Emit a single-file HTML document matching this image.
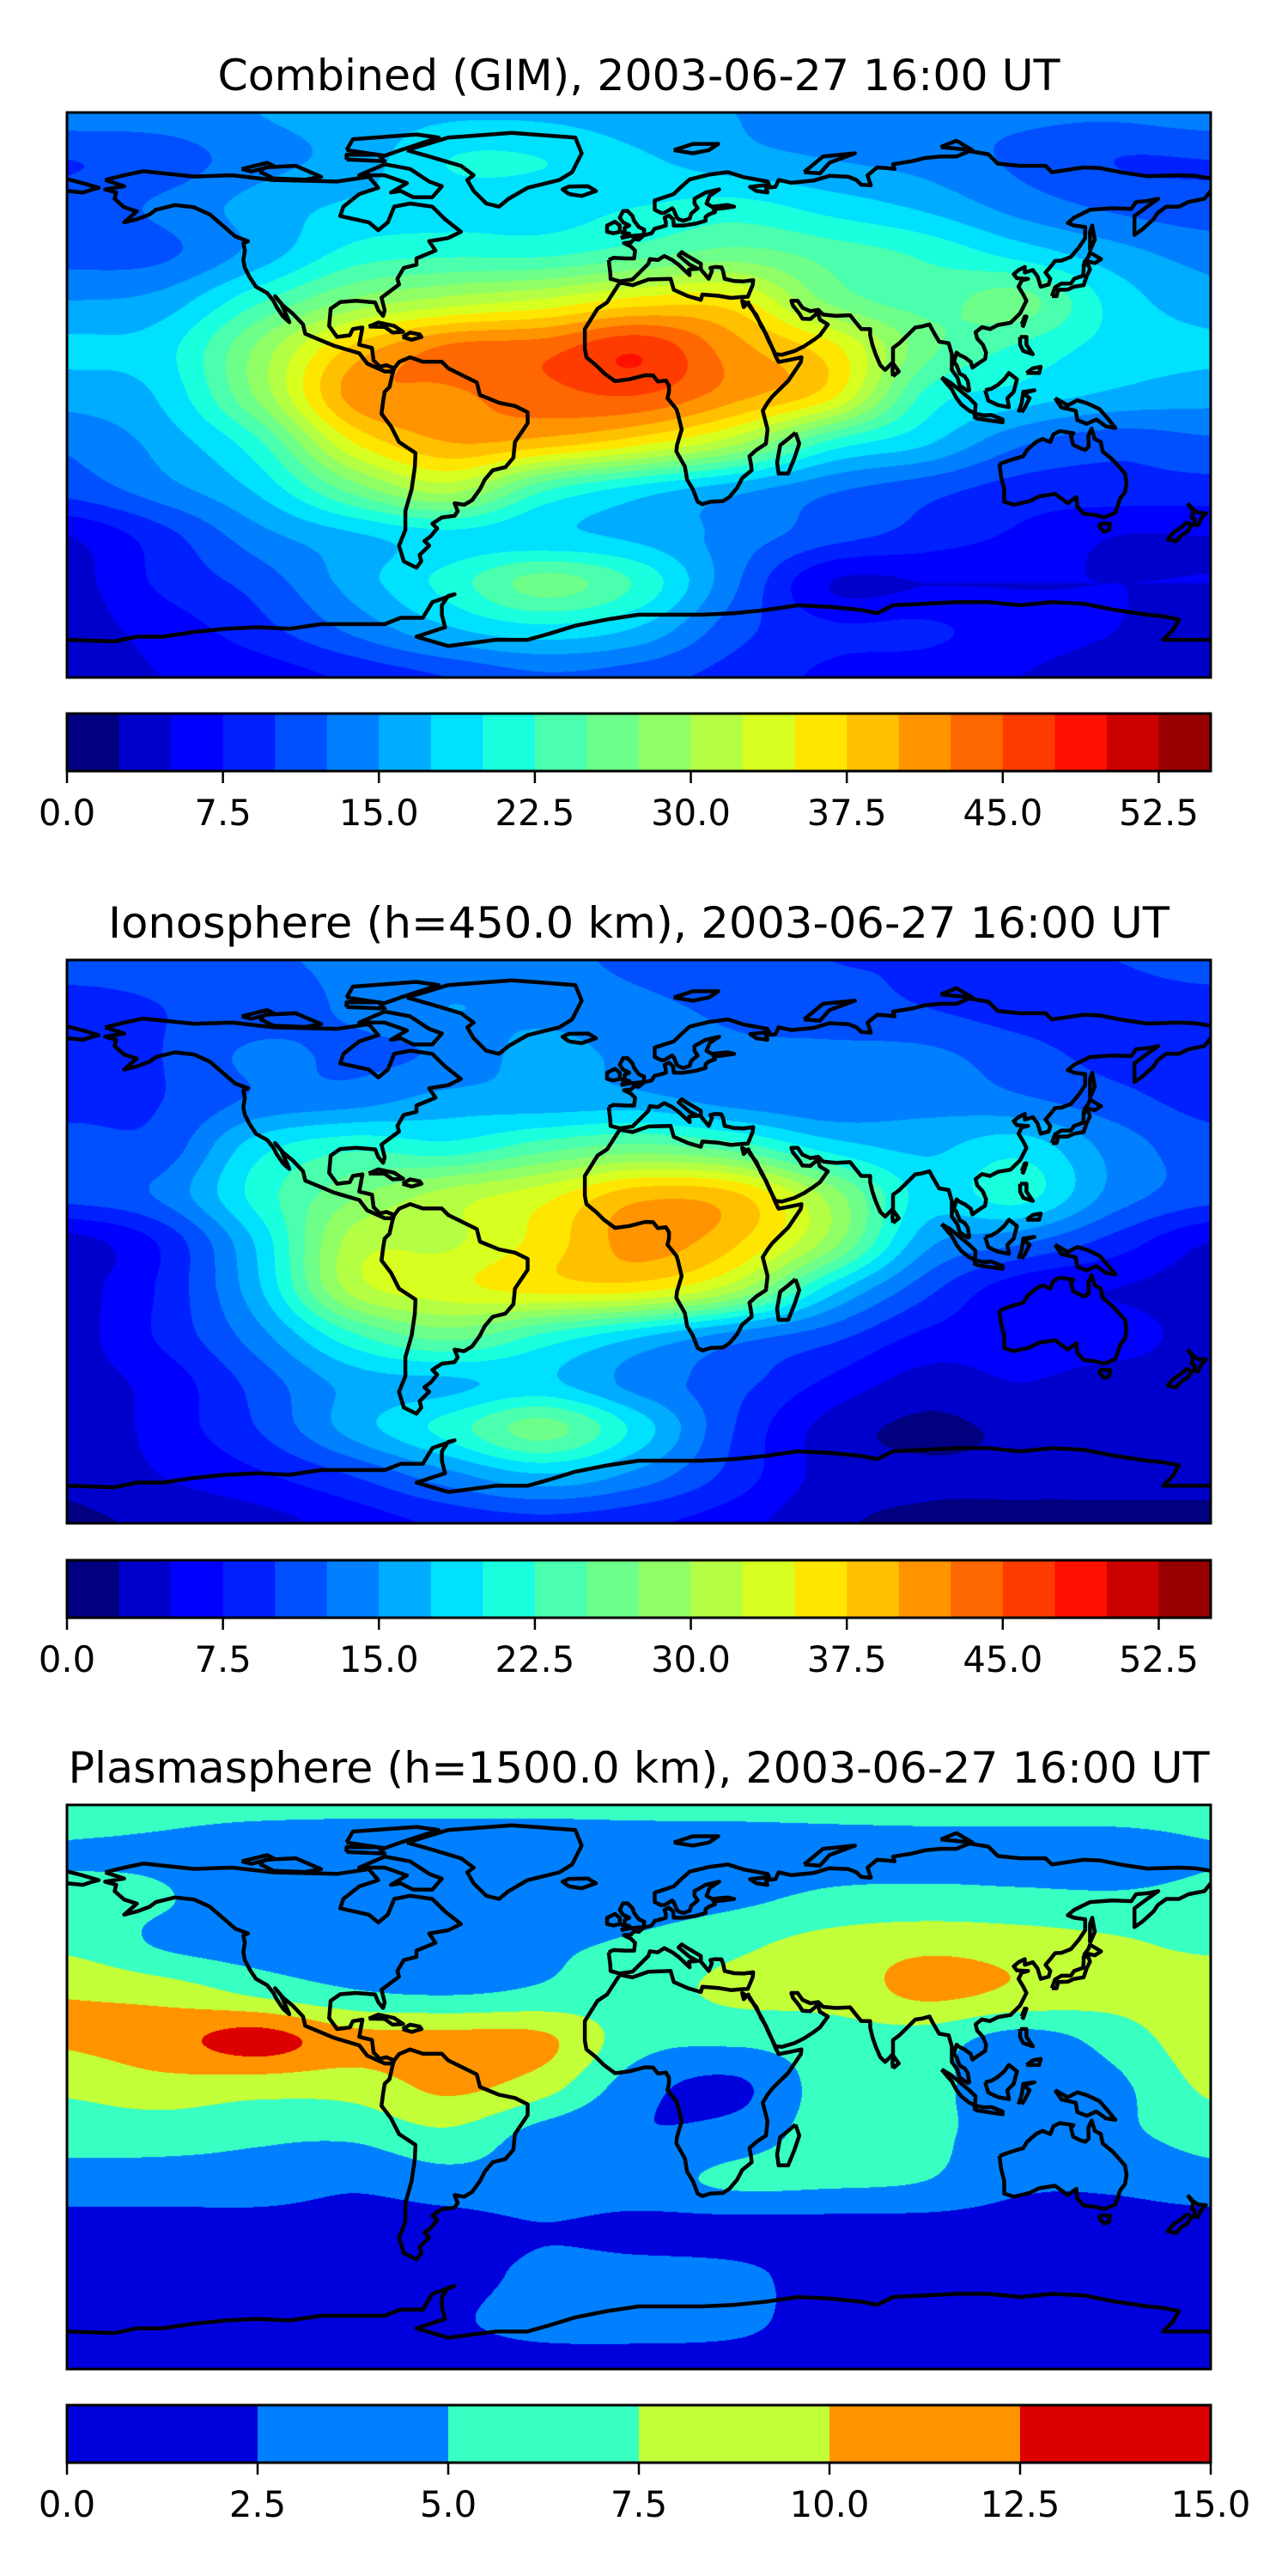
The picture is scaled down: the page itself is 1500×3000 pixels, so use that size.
<!DOCTYPE html>
<html><head><meta charset="utf-8">
<style>
html,body{margin:0;padding:0;background:#fff;}
#wrap{position:relative;width:1500px;height:3000px;overflow:hidden;background:#fff;}
canvas{position:absolute;}
svg{position:absolute;left:0;top:0;}
text{font-family:"DejaVu Sans","Liberation Sans",sans-serif;fill:#000;}
</style></head>
<body>
<div id="wrap">
<canvas id="c1" width="1332" height="658" style="left:78px;top:131px"></canvas>
<canvas id="c2" width="1332" height="656" style="left:78px;top:1118px"></canvas>
<canvas id="c3" width="1332" height="657" style="left:78px;top:2102px"></canvas>
<svg id="ov" width="1500" height="3000"></svg>
</div>
<script>
// grid: lon -180..180 step 30 (13), lat 90..-90 step 15 (13 rows)
const lons=[-180,-150,-120,-90,-60,-30,0,30,60,90,120,150,180];
const lats=[90,75,60,45,30,15,0,-15,-30,-45,-60,-75,-90];
const combinedTec=[
[14,14,15,16,17,17,16,15,14,13,13,13,14],
[10,11,14,16,20,20,18,16,15,14,12,10,10],
[11,13,16,18,19,19,20,21,19,17,14,12,11],
[11.5,12,16,21,22,22,24,26,24,22,19,16,14],
[15,16,22,28,31,33,36,36,27,24,26,19,16],
[18,19,28,38,43,44,47,41,36,26,22,19,18],
[16,18,28,41,42,44,45,41,36,22,19,17,16],
[13,16,22,35,40,39,36,31,22,18,13,11,12],
[11,14,18,26,31,23,19,16,13,11,9,9,9],
[5,9,14,17,19,18,17,14,11,9,7,5,5],
[4,8,11,16,21,26,22,13,5,5,5,5,5],
[4,6,9,13,17,19,17,11,8,8,6,5,4],
[4,5,6,8,10,12,11,9,7,6,5,4,4]];
const ionoTec=[
[11,11,12,13,13,13,12,11,10,10,10,10,11],
[9,10,11,13,15,14,13,12,11,10,9,9,9],
[8,10,13,12,13,16,14,13,13,13,11,9,8],
[9,10,13,14,16,16,16,14,13,14,13,11,9],
[11,11,19,22,21,24,26,24,19,17,19,14,11],
[11,13,21,27,31,34,39,38,29,19,21,14,11],
[4,8,18,31,32,36,41,38,29,16,13,9,5],
[4,8,17,31,34,36,36,31,19,11,6,5,4],
[4,8,14,22,26,22,18,14,11,7,6,6,4],
[4,6,11,16,17,18,14,11,7,4,5,4,4],
[3,6,10,16,21,26,19,10,4,2,3,3,3],
[3,5,7,10,14,17,14,9,4,3,3,3,3],
[2,3,4,6,8,9,8,6,3,2,2,2,2]];
const plasmaTec=[
[5.6,5.6,5.6,5.6,5.6,5.6,5.6,5.6,5.6,5.6,5.6,5.6,5.6],
[4.9,4.6,3.6,3.2,3.2,3.2,3.6,3.8,4.2,4.4,4.4,4.4,4.9],
[5.5,5.2,3.3,3.2,3.2,3.3,3.8,4.5,5.5,5.7,5.5,5.3,5.5],
[7,4.8,3.8,3.3,3.3,4.5,5.5,7,8.5,9.5,9,8,7],
[9.8,9,7,5.3,4.8,5.5,6.5,8,8.5,10.5,9.5,8.5,9.5],
[10.3,11.5,13.5,11,11,10.5,6,5.5,6.2,6.2,4,6,9.2],
[8,9,8.5,8.5,10.5,8.5,3.5,2,6,5.5,4,4.5,8],
[6,6,5.5,5.5,7,4,2.6,3.5,6,5.5,4,4.5,6],
[4,4,4,3,4,4,4,5.5,5.5,5,3,3,4],
[1.5,1.5,1.5,1.5,1.6,2.4,1.8,1.6,1.5,1.5,1.5,1.5,1.5],
[1.5,1.5,1.5,1.5,1.7,3,3.2,3,1.6,1.5,1.5,1.5,1.5],
[1.5,1.5,1.5,1.5,2.2,3.2,3.3,3,1.6,1.5,1.5,1.5,1.5],
[1.5,1.5,1.5,1.5,1.5,1.5,1.5,1.5,1.5,1.5,1.5,1.5,1.5]];
const levels22=[0,2.5,5,7.5,10,12.5,15,17.5,20,22.5,25,27.5,30,32.5,35,37.5,40,42.5,45,47.5,50,52.5,55];
const colors22=["#000080","#0000cd","#0000ff","#0020ff","#0050ff","#0080ff","#00acff","#00e0ff","#1affdd","#4affad","#6dff8a","#90ff66","#b4ff43","#d7ff1f","#ffe600","#ffc000","#ff9400","#ff6800","#ff3c00","#ff1000","#cd0000","#980000"];
const ticks22=["0.0","7.5","15.0","22.5","30.0","37.5","45.0","52.5"];
const tickVals22=[0,7.5,15,22.5,30,37.5,45,52.5];
const levels6=[0,2.5,5,7.5,10,12.5,15];
const colors6=["#0000dc","#0080ff","#38ffc2","#c2ff38","#ff9400","#dc0000"];
const ticks6=["0.0","2.5","5.0","7.5","10.0","12.5","15.0"];
const tickVals6=[0,2.5,5,7.5,10,12.5,15];

// coastlines [lon,lat]
const coasts={
"north-america":[[-168,68.5],[-162,70],[-156,71.3],[-140,69.6],[-128,70],[-115,68.5],[-95,68],[-85,69.5],[-82,66],[-88,64],[-93,60],[-94,57],[-85,55],[-82,52.5],[-79,55],[-77,60],[-72,61],[-65,60],[-61,56],[-56,52],[-60,50],[-66,49],[-64,46],[-70,43.5],[-70,41.5],[-74,40.5],[-76,37],[-75.5,35.2],[-81,31],[-80,27],[-80.5,25.2],[-82,27],[-83,29.5],[-89,30],[-94,29.6],[-97,27.5],[-97.5,22],[-95,18.5],[-91,19],[-90,21],[-87,21.5],[-88,16],[-84,15],[-83.5,11],[-81.5,9],[-79.5,9.5],[-77,8.5],[-78,7.5],[-80,7.5],[-85.5,10],[-88,13.3],[-92,14.5],[-96,15.7],[-105,19.5],[-105.7,22.5],[-109,26],[-112,28.5],[-114.5,31.5],[-112.5,29],[-110,23.2],[-112,25],[-114,28],[-115,30],[-117,32.5],[-120.5,34.5],[-122.5,37.5],[-124,40.5],[-124.5,43],[-124,46],[-124.5,48.3],[-123,49],[-127,50.5],[-131,54],[-135,57.5],[-140,59.8],[-146,60.5],[-152,59],[-154,57.5],[-158,56],[-162,55],[-158,58.5],[-162,59.8],[-165,62.5],[-164.5,64.5],[-168,65.5],[-162,66.5],[-168,68.5]],
"south-america":[[-77,8.5],[-75.5,10.5],[-72,12],[-68,10.6],[-62,10.6],[-60,8.5],[-55,6],[-51,4],[-50,0],[-44,-2.5],[-39,-3.5],[-35,-5.5],[-35,-9],[-39,-15],[-39.5,-20],[-42,-23],[-46,-24],[-48.5,-27],[-50,-30],[-52.5,-33.5],[-55,-35],[-58,-34.5],[-57,-37],[-58,-38.5],[-62,-39],[-65,-41],[-63.5,-42.5],[-65.5,-45],[-67.5,-46.5],[-66,-48],[-69,-51],[-68.5,-53],[-70,-55],[-74,-53],[-75.5,-48],[-73.5,-43],[-73.5,-37],[-71.5,-30],[-70.5,-23],[-70.3,-18.5],[-75.5,-15],[-78,-10],[-81,-6],[-80.5,-2],[-80,1],[-78.5,2.5],[-77.5,7],[-77,8.5]],
"greenland":[[-73,78],[-60,82],[-40,83.5],[-20,82],[-18,77],[-21,71],[-25,68.5],[-35,66],[-41,62.5],[-44,60],[-48,61],[-52,65],[-54,68.5],[-52,70],[-56,73],[-66,76],[-73,78]],
"eurasia-africa-south":[[-9.5,43],[-9,39],[-8.9,37],[-6,36.2],[-2,36.8],[0,38.8],[3,41.8],[3.5,43.3],[6,43],[8,44.3],[10.5,43],[12.5,41.5],[16,38.2],[15.8,40],[18.5,40.2],[16,41.5],[12.5,44.5],[13.5,45.5],[15,44.5],[19.5,41.8],[19.5,40],[22,37],[23,39.5],[22.5,40.5],[24,40.8],[26,40.7],[26.5,39.5],[27,37],[30,36.3],[33,36.2],[36,36.6],[35.8,35],[35,33],[34.3,31.3],[32.3,31.2],[29,30.9],[25,31.6],[20,32],[19.5,30.3],[15.5,31.5],[11,33.5],[10,37],[3,36.8],[-2,35],[-6,35.8],[-10,29.5],[-13,27.5],[-17,21],[-17,14.7],[-16.5,12],[-13.5,9.5],[-11,7],[-7.5,4.4],[-3,5],[2,6.3],[4.5,6.2],[6,4.3],[8.5,4.6],[9.5,3],[9.5,1],[9,-1],[11.8,-4.5],[12.3,-6],[13.5,-11],[12,-16],[11.8,-18],[14.5,-22.8],[15.2,-27],[17,-30],[18.5,-34],[20,-34.8],[22.5,-34],[26.5,-33.8],[28.5,-32.5],[31,-29.5],[32.5,-26.5],[35.5,-24],[35.3,-22],[34.8,-19.5],[37,-17.5],[40,-15.5],[40.5,-11],[39.5,-7],[39,-5],[40.5,-2.5],[42,-0.5],[44,1.5],[47,4.5],[49,7.5],[51,10.5],[51.2,12],[48,11.3],[44,10.5],[43,12.5],[42,15],[40,19.5],[38.5,22],[37,25.5],[35,28],[34.5,29.5],[33,28],[32.5,30],[35,28.5],[37,25],[39,21.5],[41,17],[43,13],[45,12.8],[49,14],[52,15.5],[55,17.5],[57,19],[59.5,22.5],[57,24],[56.3,26.2],[54,24.2],[51.5,24.3],[50.5,26],[48.5,28.5],[48,30],[50,30],[51.5,27.8],[54,26.7],[56.5,27.1],[58,25.6],[62,25.2],[66.5,25.4],[68,23.5],[70,21],[72.8,21],[72.8,19],[73.5,16],[74.5,13],[76,9.5],[77.5,8],[78.5,9],[80,10.5],[80,15],[82,16.5],[84,18.5],[87,21.5],[89,21.8],[91.5,22.5],[92.5,20.5],[94.5,17],[97.5,16.5],[98.5,13],[98.5,10],[98.5,8],[100.3,5.5],[101,3],[103.5,1.3],[104,1.5],[103.5,4.5],[102.5,6],[101,6.8],[100,9.5],[99.2,10.5],[100,13.5],[101,12.7],[102.5,12],[104.5,10.5],[105,8.7],[106.5,9.8],[109,11.5],[109.3,13.5],[108.3,16],[106.5,18],[106,20],[108,21.6],[110.5,21],[113,22.3],[117,23],[120,26],[122,30],[121,32],[119.5,34.5],[120.5,36.5],[122.5,37],[119,37.2],[118,38.5],[119.5,39.8],[121.5,40.8],[121.5,39],[124,39.8],[125.5,37.8],[126.5,34.5],[129,35.2],[129.5,37],[128,39],[129.7,41],[131,42.7],[133,42.8],[136,44],[138.5,47],[140.5,50],[140.5,53.5],[137,54],[135,54.8],[137,56.5],[142,59],[149,59.5],[155,59.3],[156.5,61.5],[160,61.8],[163.5,62.5],[160,60],[156,57],[156,51],[158.5,52.8],[162,56],[163.3,58],[166,60],[170,60],[173,61.5],[178,62.5],[180,65]],
"eurasia-north":[[180,69],[175,69.8],[170,70],[160,69.7],[152,70.9],[145,72.3],[140,72.5],[130,71],[128,73],[120,73],[113,73.7],[110,76.7],[104,77.7],[100,76],[95,76],[90,75.5],[86,74.5],[80,73.5],[80.5,72],[78,72.3],[75,72.5],[72,70],[73,66.8],[70,67],[68.5,68.5],[66,69.5],[60,69.8],[55,68.3],[48,67.6],[44,68.5],[43,66.3],[40,66],[40.5,64.5],[37,65],[35,66.3],[41,67],[40.5,68],[33,69.4],[28,71],[22,70.2],[16,68.7],[13,66],[11,64],[5,62],[5,59],[7,58],[8,58],[10.5,59.5],[11,58.9],[12,56.5],[12.5,56],[14,55.5],[16,56.2],[16.5,57.8],[18.5,59.5],[17.5,61],[17.5,62.5],[21,64.5],[25.3,65.5],[22.3,63.5],[21.3,61],[23,60],[28,60.5],[30,60],[26.5,59.5],[23.5,59.2],[24,58.3],[22,57.5],[21,56.7],[21,55.5],[18,54.6],[14,54],[11,54],[10.8,56],[9.5,57.2],[8.1,56.5],[8.5,55],[8.5,54],[7,53.5],[5,53],[4,51.5],[1.6,50.9],[0,49.5],[-1.5,49.7],[-2.5,48.6],[-4.7,48.4],[-2.5,47.3],[-1.2,46],[-1.5,43.5],[-4,43.5],[-8,43.7],[-9.5,43]],
"chukotka":[[-180,65],[-175,64.5],[-172,65.5],[-170,66],[-175,67.5],[-180,68.8]],
"britain":[[-5.7,50],[-3,50.6],[1.5,51],[1.7,52.7],[0,53.5],[-1.5,55.5],[-2,57],[-3.5,58.6],[-5,58.6],[-6,56.5],[-5,55],[-3,54],[-4.5,53.3],[-4.5,52],[-5.3,51.7],[-3,51.4],[-5.7,50]],
"ireland":[[-6,52],[-6,54],[-7.5,55.2],[-10,54],[-10,52],[-8,51.5],[-6,52]],
"iceland":[[-22,64],[-24,65.5],[-22,66.4],[-16,66.5],[-13.5,65],[-18,63.4],[-22,64]],
"madagascar":[[49.3,-12],[50.5,-15.5],[49,-20],[47,-25],[44,-25],[43.5,-21.5],[44.5,-16],[47,-14],[49.3,-12]],
"australia":[[113.5,-22],[114,-26],[115,-30],[115,-34],[118,-35],[123,-33.8],[126,-32.3],[131,-31.5],[135,-34.5],[137.7,-32.5],[138,-35.5],[140,-37.8],[144,-38.3],[146.5,-39],[150,-37.5],[151.5,-33],[153,-31],[153.5,-28],[153,-25],[150.8,-22.5],[149,-20.5],[146,-18],[145.4,-15],[143.5,-14],[142.5,-10.7],[141.5,-13],[141.6,-16.5],[140.5,-17.5],[139,-17],[136.7,-15.9],[136,-13],[136.8,-12.2],[132.5,-11.5],[130.5,-12.5],[129.5,-15],[127,-14],[125,-15],[122.2,-17.5],[121,-19.5],[117,-20.7],[113.5,-22]],
"tasmania":[[145,-41],[148.3,-41],[148,-43],[146.5,-43.6],[145,-42],[145,-41]],
"nz-north":[[172.7,-34.5],[174.5,-36.5],[176,-37.5],[178.5,-37.7],[177,-39.3],[176,-41.5],[174.8,-41.3],[175,-39.5],[174,-39],[174.5,-37],[172.7,-34.5]],
"nz-south":[[172.5,-40.5],[174,-41.5],[172.7,-43.5],[171,-44.5],[169,-46.6],[166.5,-46],[168,-44],[171,-42],[172.5,-40.5]],
"japan":[[130,31.5],[131.5,31.5],[132,33.5],[135,33.6],[137,34.5],[140,35],[141,38],[142,40],[141.5,41.5],[140,41.5],[140,40],[139.8,38],[137,37],[136,35.5],[133,35.5],[131,34.3],[130,31.5]],
"hokkaido":[[140,42],[141.5,42.5],[143.5,42],[145.5,43.3],[142,45.4],[141.5,44],[140,42]],
"sakhalin":[[142,46],[143.5,49.5],[142.7,54],[142,52],[142,46]],
"sri-lanka":[[80,6],[81.8,7.5],[80.2,9.8],[79.8,8],[80,6]],
"borneo":[[109,1.5],[110,-1.8],[113,-3.2],[116.5,-3.9],[116,-1],[118,1],[119,5],[116.5,7],[115,5],[113,3.2],[111,2],[109,1.5]],
"sumatra":[[95.3,5.6],[98,4],[101,1.5],[104,-1],[106,-3],[105.8,-5.8],[104,-5],[101.5,-3],[100,-1],[98.5,1.8],[97,3.5],[95.3,5.6]],
"java":[[105.3,-6.8],[106.2,-6],[108.5,-6.5],[111,-6.4],[114.5,-7.8],[114.5,-8.7],[111,-8.2],[106.5,-7.5],[105.3,-6.8]],
"sulawesi":[[119.5,-5.5],[120.5,-2.5],[121,1],[124.5,1.5],[121,0.5],[123,-1],[121.5,-4],[120.5,-5.5]],
"new-guinea":[[131,-1],[135,-3.3],[138,-1.7],[141,-2.6],[145,-4.5],[148,-8],[150,-10.5],[147,-10],[144,-7.8],[141,-9.2],[138,-8],[137.5,-5],[133,-4],[132,-2.5],[131,-1]],
"luzon":[[120,18.5],[122,18.5],[122,16],[124,13],[121,14],[120,16],[120,18.5]],
"mindanao":[[122,7],[126,7],[126.5,9],[124,8.5],[122,7]],
"taiwan":[[120.5,22.5],[121.5,25],[122,25],[121,22],[120.5,22.5]],
"cuba":[[-85,21.8],[-82,23.1],[-77,22],[-74.2,20.1],[-77.5,19.9],[-80,21.7],[-85,21.8]],
"hispaniola":[[-74.4,18.5],[-72,19.9],[-69,19.3],[-68.4,18.5],[-71.5,17.6],[-74.4,18.5]],
"baffin":[[-80,73.5],[-72,72],[-66,68],[-62,66.5],[-65,63],[-71,63],[-75,65],[-78,64.5],[-73,67.5],[-80,70],[-88,70],[-80,73.5]],
"victoria":[[-118,72.5],[-108,73],[-100,69.5],[-105,68.6],[-115,69],[-119,71],[-118,72.5]],
"ellesmere":[[-92,78],[-80,76.2],[-75,78],[-63,82],[-70,83],[-90,81.5],[-92,78]],
"devon":[[-92,75],[-80,74.5],[-82,76.5],[-92,76.5],[-92,75]],
"banks":[[-125,72],[-117,74],[-115,73],[-122,71.2],[-125,72]],
"svalbard":[[11,78],[17,77],[22,78],[25,80],[17,80],[11,78]],
"novaya-zemlya":[[52,71],[57,70.6],[60,74],[68,77],[58,76],[52,71]],
"severnaya":[[95,79],[105,78],[100,81],[95,79]],
"antarctica":[[-180,-78],[-165,-78.5],[-158,-77],[-150,-77],[-140,-75.5],[-130,-74.5],[-120,-74],[-110,-74.5],[-100,-73],[-90,-73],[-80,-73],[-75,-71],[-68,-71],[-65,-66],[-58,-63.5],[-60,-64],[-62,-67],[-62,-70],[-61,-74],[-70,-77],[-60,-80],[-45,-78],[-35,-78],[-28,-76],[-20,-73.5],[-10,-71.5],[0,-70],[10,-70],[20,-70],[30,-69.5],[40,-68.5],[50,-67],[60,-67.5],[70,-68.5],[75,-69.5],[80,-67],[90,-66.5],[100,-66],[110,-66],[120,-67],[130,-66],[140,-66.5],[150,-68.5],[160,-70],[165,-70.5],[170,-71.5],[168,-75],[165,-78],[180,-78]]
};

const MAPX=78, MAPW=1332;
const panels=[
 {id:"c1",top:131,h:658,data:combinedTec,levels:levels22,colors:colors22,ticks:ticks22,tickVals:tickVals22,cbTop:831,title:"Combined (GIM), 2003-06-27 16:00 UT",tw:981,name:"combined"},
 {id:"c2",top:1118,h:656,data:ionoTec,levels:levels22,colors:colors22,ticks:ticks22,tickVals:tickVals22,cbTop:1817,title:"Ionosphere  (h=450.0 km), 2003-06-27 16:00 UT",tw:1236,name:"ionosphere"},
 {id:"c3",top:2102,h:657,data:plasmaTec,levels:levels6,colors:colors6,ticks:ticks6,tickVals:tickVals6,cbTop:2801,title:"Plasmasphere (h=1500.0 km), 2003-06-27 16:00 UT",tw:1329,name:"plasmasphere"}
];

function hex(c){return [parseInt(c.substr(1,2),16),parseInt(c.substr(3,2),16),parseInt(c.substr(5,2),16)];}
function cr(p0,p1,p2,p3,t){return 0.5*((2*p1)+(-p0+p2)*t+(2*p0-5*p1+4*p2-p3)*t*t+(-p0+3*p1-3*p2+p3)*t*t*t);}
function sample(g,u,v){
  const nc=lons.length, nr=lats.length;
  const i=Math.min(Math.floor(u),nc-2), j=Math.min(Math.floor(v),nr-2);
  const tu=u-i, tv=v-j;
  const col=k=>Math.max(0,Math.min(nc-1,k)), row=k=>Math.max(0,Math.min(nr-1,k));
  const r=[];
  for(let a=-1;a<=2;a++){const R=g[row(j+a)];r.push(cr(R[col(i-1)],R[col(i)],R[col(i+1)],R[col(i+2)],tu));}
  return cr(r[0],r[1],r[2],r[3],tv);
}
const lonToU=lon=>(lon-lons[0])/(lons[lons.length-1]-lons[0])*(lons.length-1);
const latToV=lat=>(lats[0]-lat)/(lats[0]-lats[lats.length-1])*(lats.length-1);

const svgNS="http://www.w3.org/2000/svg";
const ov=document.getElementById('ov');
function mk(tag,attrs){const e=document.createElementNS(svgNS,tag);for(const k in attrs)e.setAttribute(k,attrs[k]);ov.appendChild(e);return e;}

panels.forEach(p=>{
  const cv=document.getElementById(p.id), ctx=cv.getContext('2d');
  const W=cv.width,H=cv.height,img=ctx.createImageData(W,H),d=img.data;
  const rgb=p.colors.map(hex), lv=p.levels, n=p.colors.length;
  for(let y=0;y<H;y++){
    const lat=90-(y+0.5)/H*180, v=latToV(lat);
    for(let x=0;x<W;x++){
      const lon=-180+(x+0.5)/W*360;
      const val=sample(p.data,lonToU(lon),v);
      let k=0; while(k<n-1 && val>=lv[k+1]) k++;
      const c=rgb[k], o=(y*W+x)*4;
      d[o]=c[0];d[o+1]=c[1];d[o+2]=c[2];d[o+3]=255;
    }
  }
  ctx.putImageData(img,0,0);
  const px=lon=>MAPX+(lon+180)/360*MAPW, py=lat=>p.top+(90-lat)/180*p.h;
  const cid='clip-'+p.name;
  const defs=mk('defs',{});
  const cp=document.createElementNS(svgNS,'clipPath');cp.setAttribute('id',cid);
  const cr_=document.createElementNS(svgNS,'rect');
  cr_.setAttribute('x',MAPX);cr_.setAttribute('y',p.top);cr_.setAttribute('width',MAPW);cr_.setAttribute('height',p.h);
  cp.appendChild(cr_);defs.appendChild(cp);
  const g=mk('g',{'clip-path':'url(#'+cid+')'});
  
  
  for(const key in coasts){
    const pts=coasts[key].map(q=>px(q[0]).toFixed(1)+','+py(q[1]).toFixed(1)).join(' ');
    const pl=document.createElementNS(svgNS,'polyline');
    pl.setAttribute('points',pts);pl.setAttribute('fill','none');pl.setAttribute('stroke','#000');
    pl.setAttribute('stroke-width','4.5');pl.setAttribute('stroke-linejoin','round');
    
    
    g.appendChild(pl);
  }
  const fr=mk('rect',{x:MAPX,y:p.top,width:MAPW,height:p.h,fill:'none',stroke:'#000','stroke-width':3});
  
  
  const t=mk('text',{x:MAPX+MAPW/2,y:p.top-26,'text-anchor':'middle','font-size':50,textLength:p.tw,lengthAdjust:'spacingAndGlyphs'});
  t.textContent=p.title;
  
  
  const vmin=p.levels[0], vmax=p.levels[p.levels.length-1];
  const cx=v=>MAPX+(v-vmin)/(vmax-vmin)*MAPW;
  const cbH=67;
  p.colors.forEach((c,i)=>{
    const r=mk('rect',{x:cx(p.levels[i]),y:p.cbTop,width:cx(p.levels[i+1])-cx(p.levels[i])+0.6,height:cbH,fill:c});
    
    
  });
  const cf=mk('rect',{x:MAPX,y:p.cbTop,width:MAPW,height:cbH,fill:'none',stroke:'#000','stroke-width':3});
  
  
  p.tickVals.forEach((v,i)=>{
    const x=cx(v);
    const tk=mk('line',{x1:x,x2:x,y1:p.cbTop+cbH,y2:p.cbTop+cbH+14,stroke:'#000','stroke-width':2.5});
    
    
    const tl=mk('text',{x:x,y:p.cbTop+cbH+63,'text-anchor':'middle','font-size':41.7});
    tl.textContent=p.ticks[i];
    
    
  });
});
</script>
</body></html>
